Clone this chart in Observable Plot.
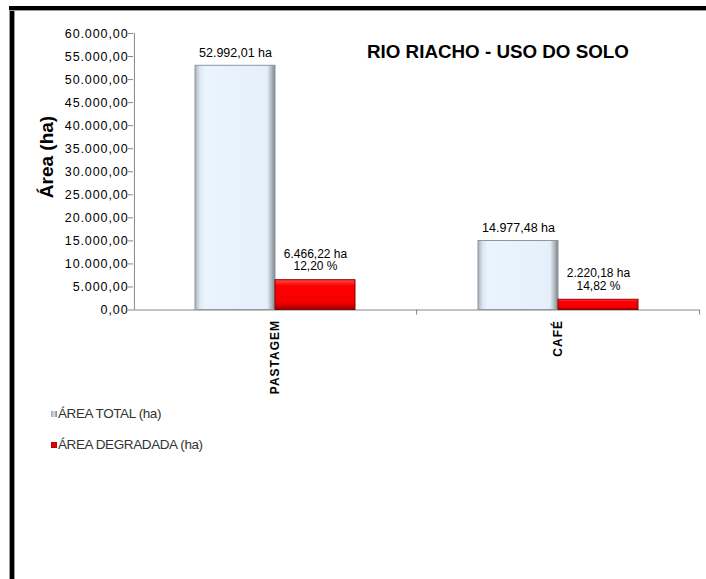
<!DOCTYPE html>
<html>
<head>
<meta charset="utf-8">
<script src="https://cdn.jsdelivr.net/npm/d3@7"></script>
<script src="https://cdn.jsdelivr.net/npm/@observablehq/plot@0.6"></script>
<style>
  html, body { margin: 0; padding: 0; background: #fff; }
  #wrap { position: relative; width: 706px; height: 579px; overflow: hidden; font-family: "Liberation Sans", Arial, sans-serif; }
  #chart { position: absolute; left: 0; top: 0; }
  #borderLeft { position: absolute; left: 9px; top: 6px; width: 6px; height: 580px; background: #000; border-left: 1px solid #9a9a9a; border-right: 1px solid #9a9a9a; box-sizing: border-box; }
  #borderTop { position: absolute; left: 9px; top: 6px; width: 700px; height: 5px; background: #000; border-bottom: 1px solid #9a9a9a; box-sizing: border-box; }
  #title { position: absolute; left: 367px; top: 41px; font-size: 18.8px; font-weight: bold; color: #000; white-space: nowrap; }
  #ylabel { position: absolute; left: 47px; top: 157px; transform: translate(-50%, -50%) rotate(-90deg); font-size: 19px; font-weight: bold; white-space: nowrap; color: #000; }
  .leg { position: absolute; left: 51px; font-size: 13.5px; color: #333; white-space: nowrap; letter-spacing: -0.4px; display: flex; align-items: center; }
  [aria-label="y-axis tick label"] text { letter-spacing: 0.9px; }
  [aria-label="fx-axis tick label"] text { letter-spacing: 1px; }
</style>
</head>
<body>
<svg width="0" height="0" style="position:absolute">
  <defs>
    <linearGradient id="gTotal" x1="0" x2="1" y1="0" y2="0">
      <stop offset="0" stop-color="#aab2ba"/>
      <stop offset="0.06" stop-color="#dde7f1"/>
      <stop offset="0.12" stop-color="#eaf4fe"/>
      <stop offset="0.9" stop-color="#e6f0fa"/>
      <stop offset="0.95" stop-color="#b6bec6"/>
      <stop offset="1" stop-color="#7d858d"/>
    </linearGradient>
    <linearGradient id="gRed" x1="0" x2="0" y1="0" y2="1">
      <stop offset="0" stop-color="#ff4a4a"/>
      <stop offset="0.2" stop-color="#ff0000"/>
      <stop offset="0.75" stop-color="#f40000"/>
      <stop offset="1" stop-color="#a00000"/>
    </linearGradient>
    <linearGradient id="gLegT" x1="0" x2="1" y1="0" y2="0">
      <stop offset="0" stop-color="#9aa3ad"/>
      <stop offset="0.5" stop-color="#d8e2ec"/>
      <stop offset="1" stop-color="#7d858d"/>
    </linearGradient>
  </defs>
</svg>
<div id="wrap">
  <div id="chart"></div>
  <div id="borderLeft"></div>
  <div id="borderTop"></div>
  <div id="title"></div>
  <div id="ylabel"></div>
  <div id="legend"></div>
</div>
<script>
// ---- data ----
const chartTitle = "RIO RIACHO - USO DO SOLO";
const yLabel = "Área (ha)";
const categories = ["PASTAGEM", "CAFÉ"];
const series = ["ÁREA TOTAL (ha)", "ÁREA DEGRADADA (ha)"];
const areaTotal = [52992.01, 14977.48];
const areaDegradada = [6466.22, 2220.18];
const percentDegradada = [12.20, 14.82];
const yTicks = [0, 5000, 10000, 15000, 20000, 25000, 30000, 35000, 40000, 45000, 50000, 55000, 60000];

// ---- formatting ----
const locale = d3.formatLocale({decimal: ",", thousands: ".", grouping: [3], currency: ["R$", ""]});
const fmt2 = locale.format(",.2f");

const rowsTotal = categories.map((c, i) => ({cat: c, serie: series[0], value: areaTotal[i], label: `${fmt2(areaTotal[i])} ha`}));
const rowsDeg = categories.map((c, i) => ({cat: c, serie: series[1], value: areaDegradada[i], label: `${fmt2(areaDegradada[i])} ha\n${fmt2(percentDegradada[i])} %`}));

// ---- layout ----
const W = 706, H = 579;
const mL = 133, mR = 7, mT = 33, mB = H - 309.5;
const padOuter = 0.75;
const facetW = (W - mL - mR) / categories.length;
const bw = facetW / (series.length + 2 * padOuter);
const edgeOffset = (padOuter + 0.5) * bw;
const axisGray = "#868686";

const plot = Plot.plot({
  width: W,
  height: H,
  marginLeft: mL,
  marginRight: mR,
  marginTop: mT,
  marginBottom: mB,
  style: {fontFamily: '"Liberation Sans", Arial, sans-serif', fontSize: "12.5px", background: "transparent", color: "#000"},
  fx: {domain: categories, padding: 0, label: null},
  x: {domain: series, paddingInner: 0, paddingOuter: padOuter, axis: null},
  y: {domain: [0, 60000], axis: null},
  marks: [
    Plot.axisY({ticks: yTicks, tickFormat: fmt2, tickSize: 5, tickPadding: 0, stroke: axisGray, fill: "#000", label: null, fontSize: 12.5}),
    Plot.axisFx({anchor: "bottom", tickSize: 0, tickPadding: 10, tickRotate: -90, fontSize: 12, fontWeight: "bold", label: null}),
    Plot.ruleY([0], {stroke: axisGray}),
    // y-axis line at left edge of first category
    Plot.ruleX([categories[0]], {fx: d => d, x: () => series[0], dx: -edgeOffset, stroke: axisGray}),
    // category separator ticks at the right edge of each category
    Plot.ruleX(categories, {fx: d => d, x: () => series[1], dx: edgeOffset, y1: 0, y2: 0, insetBottom: -5, stroke: axisGray}),
    Plot.barY(rowsTotal, {fx: "cat", x: "serie", y: "value", fill: "url(#gTotal)", stroke: "#8e969e", strokeWidth: 1}),
    Plot.barY(rowsDeg, {fx: "cat", x: "serie", y: "value", fill: "url(#gRed)", stroke: "#8a0000", strokeWidth: 1}),
    Plot.text(rowsTotal, {fx: "cat", x: "serie", y: "value", text: "label", lineAnchor: "bottom", dy: -9, fontSize: 12.5, fill: "#000"}),
    Plot.text(rowsDeg, {fx: "cat", x: "serie", y: "value", text: "label", lineAnchor: "bottom", dy: -10, lineHeight: 1.05, fontSize: 12, fill: "#000"})
  ]
});
document.getElementById("chart").appendChild(plot);

document.getElementById("title").textContent = chartTitle;
document.getElementById("ylabel").textContent = yLabel;

const legendColors = ["url(#gLegT)", "#e00000"];
const legendTops = [406, 437];
const legend = document.getElementById("legend");
series.forEach((s, i) => {
  const row = document.createElement("div");
  row.className = "leg";
  row.style.top = legendTops[i] + "px";
  const sw = document.createElementNS("http://www.w3.org/2000/svg", "svg");
  sw.setAttribute("width", 6); sw.setAttribute("height", 6);
  sw.style.marginRight = "1px";
  const r = document.createElementNS("http://www.w3.org/2000/svg", "rect");
  r.setAttribute("width", 6); r.setAttribute("height", 6);
  r.setAttribute("fill", legendColors[i]);
  if (i === 1) { r.setAttribute("stroke", "#900"); r.setAttribute("stroke-width", 1); }
  sw.appendChild(r);
  row.appendChild(sw);
  const t = document.createElement("span");
  t.textContent = s;
  row.appendChild(t);
  legend.appendChild(row);
});
</script>
</body>
</html>
